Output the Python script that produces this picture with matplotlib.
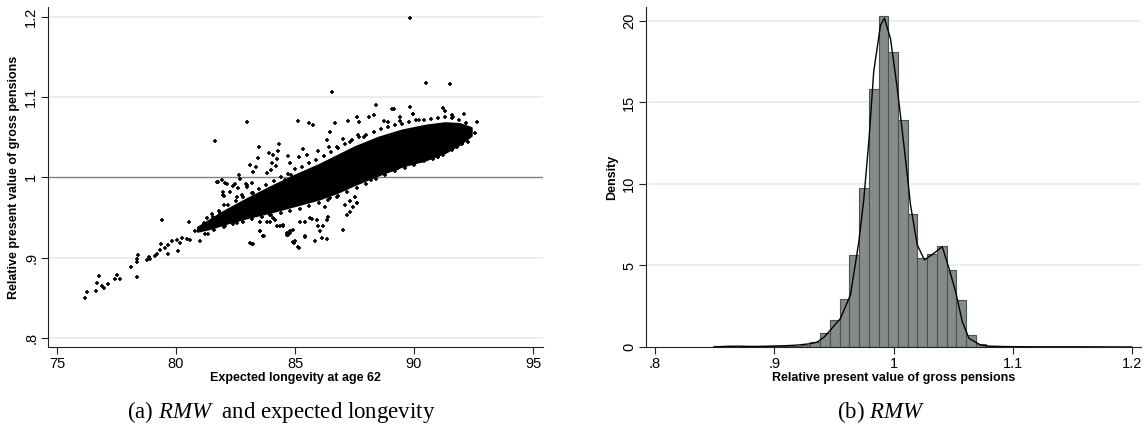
import numpy as np
import matplotlib
matplotlib.use("Agg")
import matplotlib.pyplot as plt
from matplotlib import rcParams

rcParams['font.family'] = ['Liberation Sans', 'DejaVu Sans']
rcParams['mathtext.fontset'] = 'custom'
rcParams['mathtext.rm'] = 'Liberation Serif'
rcParams['mathtext.it'] = 'Liberation Serif:italic'

# --- panel (a): dense core of the cloud (envelope)
band_x = [80.9, 81.5, 82.0, 83.0, 84.0, 85.0, 86.0, 86.75, 87.5, 88.5, 89.5, 90.5, 91.3, 91.9, 92.4]
band_up = [0.938, 0.949, 0.958, 0.974, 0.989, 1.003, 1.016, 1.027, 1.038, 1.050, 1.059, 1.065, 1.068, 1.067, 1.062]
band_lo = [0.933, 0.937, 0.942, 0.950, 0.957, 0.965, 0.973, 0.981, 0.991, 1.003, 1.014, 1.022, 1.031, 1.041, 1.052]

# halo along the edges of the core
edge_x = [81.5, 81.8, 82.2, 82.5, 82.8, 83.2, 83.5, 83.8, 84.1, 84.4, 84.7, 85.0, 85.3, 85.6,
          85.9, 86.2, 86.5, 86.8, 87.1, 87.4, 87.7, 88.0, 88.3, 88.6, 88.9, 89.2, 89.5, 89.8,
          90.1, 90.4, 90.7, 91.0, 91.3, 91.6, 91.9, 92.2,
          81.2, 81.6, 82.0, 82.4, 82.8, 83.2, 83.6, 84.0, 84.4, 84.8, 85.2, 85.6, 86.0, 86.4,
          86.8, 87.2, 87.6, 88.0, 88.4, 88.8, 89.2, 89.6, 90.0, 90.4, 90.8, 91.2, 91.6, 92.0]
edge_y = [0.955, 0.958, 0.966, 0.970, 0.975, 0.981, 0.985, 0.990, 0.996, 1.000, 1.004, 1.010, 1.013, 1.018,
          1.022, 1.027, 1.032, 1.037, 1.041, 1.046, 1.050, 1.053, 1.057, 1.060, 1.063, 1.065, 1.067, 1.069,
          1.071, 1.072, 1.073, 1.074, 1.075, 1.074, 1.072, 1.068,
          0.930, 0.935, 0.938, 0.942, 0.945, 0.948, 0.951, 0.953, 0.956, 0.958, 0.961, 0.965, 0.968, 0.972,
          0.977, 0.982, 0.987, 0.992, 0.998, 1.003, 1.008, 1.012, 1.016, 1.020, 1.024, 1.028, 1.034, 1.041]

# individual observations outside the core
pts_x = [
    76.18, 76.27, 76.64, 76.76, 76.67, 76.88, 76.99, 77.13, 77.42, 77.53, 77.65, 78.10, 78.35,
    78.35, 78.38, 78.40, 78.77, 78.87, 78.91, 79.12, 79.21, 79.33, 79.36, 79.40, 79.54, 79.68,
    79.68, 79.82, 80.03, 80.10, 80.17, 80.24, 80.45, 80.59, 80.56, 80.80, 80.98, 81.01, 81.18,
    81.29, 81.57, 81.85, 82.06, 82.41, 82.55, 83.11, 83.67, 81.36,
    81.99, 82.02, 82.13, 82.41, 82.55, 82.76, 82.97, 81.78, 81.92, 82.06, 82.66, 82.69, 82.27, 82.62,
    81.71, 82.49, 82.94, 83.21, 81.96, 82.00, 82.97, 83.25, 83.81, 83.98, 84.58, 84.82,
    83.10, 83.36, 84.02, 84.20, 84.79, 83.25, 83.46, 84.23, 83.92, 84.09, 84.30, 84.72,
    83.50, 84.31, 81.64, 82.97, 85.14, 85.60, 85.74, 86.54, 86.68, 86.47, 86.33,
    85.32, 85.18, 85.52, 85.98, 86.44, 86.75, 87.03, 87.31, 87.66, 87.90,
    87.24, 87.62, 87.70, 88.12, 88.32, 88.40, 89.06, 89.16, 89.83, 88.74, 88.92, 89.39, 89.42,
    89.95, 90.20, 91.23, 91.30, 92.10, 91.58, 91.65, 92.63, 92.56, 89.97,
    90.50, 91.51, 89.83,
    90.60, 91.00, 90.78, 91.51, 92.07, 92.28, 92.21, 90.01, 90.28, 89.34, 88.71, 88.50, 88.20,
    88.00, 90.25, 90.81, 91.02, 91.37, 91.79,
    83.53, 83.81, 83.95, 84.09, 84.23, 84.48, 84.65, 84.79, 85.00, 85.14,
    83.18, 83.71, 83.53, 84.72, 85.18, 84.96, 85.42, 85.84, 86.12, 86.33, 86.19, 85.91, 85.70,
    84.93, 85.42, 87.03, 87.17, 87.31, 87.62, 86.05, 85.98, 86.40, 86.33,
    84.65, 84.79, 84.93, 83.67, 83.53, 83.22, 83.95, 84.16, 84.37, 84.51, 85.21, 85.42, 85.63,
    87.10, 86.75, 86.47, 87.31, 87.59, 87.50, 87.59, 86.26, 87.42,
]
pts_y = [
    0.850, 0.857, 0.8586, 0.8776, 0.8686, 0.8652, 0.8623, 0.8677, 0.8735, 0.878, 0.8735, 0.8884, 0.8755,
    0.8942, 0.8984, 0.904, 0.8975, 0.9009, 0.899, 0.9025, 0.905, 0.910, 0.9174, 0.9472, 0.912, 0.9161,
    0.905, 0.9203, 0.9224, 0.909, 0.9182, 0.9245, 0.9232, 0.9215, 0.9439, 0.9327, 0.9369, 0.9203, 0.943,
    0.9493, 0.9513, 0.9555, 0.9389, 0.9451, 0.943, 0.9183, 0.9265, 0.9298,
    0.978, 0.9658, 0.9919, 0.9894, 0.9761, 0.978, 0.9907, 0.9948, 0.997, 0.9928, 1.003, 0.9978, 0.9824, 0.9866,
    0.9948, 0.9915, 0.992, 0.9932, 0.9824, 0.977, 0.9878, 0.980, 1.005, 1.0093, 0.9969, 1.003,
    1.0155, 1.0134, 1.0176, 1.0147, 1.0184, 1.0072, 1.024, 1.0234, 1.030, 1.028, 1.0325, 1.027,
    1.0375, 1.0416, 1.0457, 1.0686, 1.0706, 1.0673, 1.0648, 1.1058, 1.0673, 1.057, 1.0466,
    1.0354, 1.025, 1.0276, 1.0333, 1.0383, 1.0383, 1.0474, 1.0445, 1.0528, 1.0507,
    1.0706, 1.0755, 1.0686, 1.0755, 1.0776, 1.090, 1.085, 1.0847, 1.088, 1.0702, 1.0693, 1.0706, 1.0755,
    1.0789, 1.0714, 1.086, 1.083, 1.0789, 1.0776, 1.0748, 1.069, 1.055, 1.0789,
    1.117, 1.1158, 1.1977,
    1.025, 1.0259, 1.0226, 1.0383, 1.0466, 1.0445, 1.055, 1.0184, 1.0209, 1.0114, 1.0085, 1.0065, 0.9969,
    0.999, 1.0217, 1.0238, 1.0259, 1.0342, 1.0383,
    0.9451, 0.9451, 0.9534, 0.9493, 0.9389, 0.941, 0.9307, 0.9307, 0.9203, 0.914,
    0.9174, 0.9273, 0.9327, 0.9286, 0.912, 0.9182, 0.9265, 0.9203, 0.9245, 0.9232, 0.9389, 0.9472, 0.948,
    0.920, 0.9257, 0.9348, 0.9534, 0.9575, 0.9687, 0.9327, 0.9398, 0.9513, 0.9472,
    0.9286, 0.9327, 0.9348, 0.9265, 0.9327, 0.9174, 0.9451, 0.9472, 0.9389, 0.9398, 0.9439, 0.9451, 0.9493,
    0.9658, 0.9761, 0.9741, 0.970, 0.968, 0.9761, 0.9687, 0.9637, 0.963,
]

# --- panel (b): histogram (bin width) and kernel density
bin_start = 0.8487
bin_width = 0.00816
hist_heights = [0.03, 0.03, 0.02, 0.03, 0.04, 0.04, 0.05, 0.06, 0.08, 0.12,
                0.29, 0.84, 1.65, 2.94, 5.64, 9.73, 15.8, 20.3, 18.1, 13.9,
                8.14, 5.44, 5.69, 6.18, 4.71, 2.90, 0.74, 0.17, 0.06, 0.03,
                0.02, 0.02, 0.01, 0.01, 0.01, 0.01, 0.01, 0.01, 0.01, 0.01, 0.01, 0.01, 0.01]

kde_x = [0.850, 0.860, 0.870, 0.880, 0.890, 0.900, 0.910, 0.920, 0.930, 0.936, 0.942, 0.9466,
         0.9555, 0.9639, 0.9708, 0.975, 0.9793, 0.9834, 0.9891, 0.9924, 0.9975, 1.0031, 1.0087,
         1.0143, 1.0199, 1.026, 1.0339, 1.0409, 1.0465, 1.0521, 1.0577, 1.0633, 1.073, 1.080,
         1.090, 1.100, 1.120, 1.150, 1.200]
kde_y = [0.0, 0.04, 0.05, 0.03, 0.04, 0.06, 0.08, 0.12, 0.20, 0.30, 0.62, 1.0,
         1.75, 3.2, 6.4, 9.0, 12.6, 16.9, 19.75, 20.17, 18.9, 15.9, 12.4,
         8.7, 6.26, 5.34, 5.75, 6.15, 4.83, 3.39, 1.55, 0.53, 0.12, 0.05,
         0.03, 0.02, 0.01, 0.01, 0.0]

grid_col = '#e3eeee'
bar_col = '#858a8a'

fig = plt.figure(figsize=(11.47, 4.44), dpi=100)
ax0 = fig.add_axes([0.04185, 0.2185, 0.4316, 0.7658])
ax1 = fig.add_axes([0.5632, 0.2185, 0.4316, 0.7658])

# (a) scatter
for g in [0.8, 0.9, 1.1, 1.2]:
    ax0.axhline(g, color=grid_col, lw=1.2, zorder=0)
ax0.axhline(1.0, color='#808080', lw=1.0, zorder=1)
ax0.fill_between(band_x, band_lo, band_up, color='black', lw=1.5, edgecolor='black', zorder=2)
ax0.plot(edge_x, edge_y, ls='none', marker='+', ms=3.4, mew=1.2, color='black', zorder=3)
ax0.plot(pts_x, pts_y, ls='none', marker='+', ms=3.4, mew=1.2, color='black', zorder=3)
ax0.set_xlim(74.62, 95.42)
ax0.set_ylim(0.789, 1.212)
ax0.set_xticks([75, 80, 85, 90, 95])
ax0.set_yticks([0.8, 0.9, 1.0, 1.1, 1.2])
ax0.set_yticklabels(['.8', '.9', '1', '1.1', '1.2'], rotation=90, va='center')
ax0.set_xlabel('Expected longevity at age 62', fontsize=9, fontweight='bold', labelpad=1)
ax0.set_ylabel('Relative present value of gross pensions', fontsize=9, fontweight='bold', labelpad=3)

# (b) histogram + density
lefts = [bin_start + i * bin_width for i in range(len(hist_heights))]
for g in [5, 10, 15, 20]:
    ax1.axhline(g, color=grid_col, lw=1.2, zorder=0)
ax1.bar(lefts, hist_heights, width=bin_width, align='edge', color=bar_col,
        edgecolor='#4d5151', lw=0.8, zorder=2)
ax1.plot(kde_x, kde_y, color='black', lw=1.0, zorder=3)
ax1.set_xlim(0.7924, 1.2076)
ax1.set_ylim(0, 20.86)
ax1.set_xticks([0.8, 0.9, 1.0, 1.1, 1.2])
ax1.set_xticklabels(['.8', '.9', '1', '1.1', '1.2'])
ax1.set_yticks([0, 5, 10, 15, 20])
ax1.set_yticklabels(['0', '5', '10', '15', '20'], rotation=90, va='center')
ax1.set_xlabel('Relative present value of gross pensions', fontsize=9, fontweight='bold', labelpad=1)
ax1.set_ylabel('Density', fontsize=9, fontweight='bold', labelpad=3)

for ax in (ax0, ax1):
    ax.spines['top'].set_visible(False)
    ax.spines['right'].set_visible(False)
    ax.spines['left'].set_color('#222222')
    ax.spines['bottom'].set_color('#222222')
    ax.tick_params(axis='both', direction='out', length=5, width=0.8, labelsize=10.5,
                   color='#222222', pad=2)

fig.text(0.245, 0.073, r'(a) $RMW\ $ and expected longevity', ha='center', va='center',
         fontsize=16.5, family=['Liberation Serif', 'DejaVu Serif'])
fig.text(0.768, 0.073, r'(b) $RMW$', ha='center', va='center',
         fontsize=16.5, family=['Liberation Serif', 'DejaVu Serif'])

fig.savefig('out.png', dpi=100)
